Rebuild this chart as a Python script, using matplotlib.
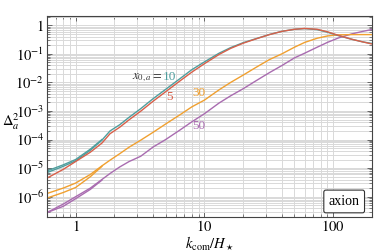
import numpy as np
import matplotlib
matplotlib.use("Agg")
import matplotlib.pyplot as plt
from matplotlib.ticker import LogLocator, FuncFormatter, NullFormatter

plt.rcParams['font.family'] = ['Liberation Serif', 'DejaVu Serif']
plt.rcParams['mathtext.fontset'] = 'stix'

# k_com / H_star grid
k = [0.6, 0.8, 1.0, 1.3, 1.6, 1.85, 2.2, 2.6, 3.2, 4, 5, 6.5, 8, 10, 13, 16,
     20, 25, 32, 40, 50, 60, 75, 90, 110, 140, 170, 200]

# Delta_a^2 for each x_{0,a}
teal_10 = [7e-6, 1.15e-5, 1.8e-5, 4.2e-5, 9.5e-5, 2.0e-4, 3.3e-4, 6.0e-4, 1.2e-3,
           2.7e-3, 5.7e-3, 0.0138, 0.028, 0.052, 0.105, 0.165, 0.245, 0.335, 0.475,
           0.61, 0.72, 0.76, 0.70, 0.57, 0.43, 0.32, 0.26, 0.23]
red_5 = [4.5e-6, 9e-6, 1.7e-5, 3.6e-5, 7.5e-5, 1.6e-4, 2.7e-4, 4.9e-4, 9.8e-4,
         2.2e-3, 4.7e-3, 0.0115, 0.023, 0.045, 0.095, 0.155, 0.235, 0.33, 0.47,
         0.61, 0.72, 0.77, 0.72, 0.59, 0.44, 0.32, 0.26, 0.22]
orange_30 = [1.3e-6, 2.0e-6, 3.0e-6, 6.0e-6, 1.2e-5, 1.9e-5, 3.2e-5, 5.4e-5, 9.5e-5,
             1.8e-4, 3.5e-4, 7.5e-4, 1.4e-3, 2.4e-3, 5.5e-3, 1.0e-2, 0.018, 0.033,
             0.063, 0.10, 0.17, 0.25, 0.35, 0.42, 0.46, 0.47, 0.47, 0.47]
purple_50 = [2.8e-7, 5.5e-7, 1.0e-6, 2.0e-6, 4.0e-6, 6.5e-6, 1.1e-5, 1.7e-5, 2.6e-5,
             5.5e-5, 1.0e-4, 2.2e-4, 4.2e-4, 8e-4, 1.9e-3, 3.4e-3, 6.0e-3, 0.0112,
             0.022, 0.039, 0.072, 0.105, 0.17, 0.25, 0.36, 0.50, 0.61, 0.71]

# second realisation, only differs at low k
k_low = [0.6, 0.8, 1.0, 1.3, 1.6]
teal_10_b = [8e-6, 1.3e-5, 2.0e-5, 4.6e-5, 1.0e-4]
orange_30_b = [9e-7, 1.4e-6, 2.1e-6, 5.0e-6, 1.15e-5]
purple_50_b = [2.8e-7, 4.6e-7, 8.5e-7, 1.8e-6, 3.8e-6]

c_teal = "#4f9e9e"
c_red = "#d8604a"
c_orange = "#f0a030"
c_purple = "#a96cb0"

fig = plt.figure(figsize=(3.74, 2.52), dpi=100)
ax = fig.add_axes([0.1257, 0.140, 0.869, 0.7965])

lw = 1.0
ax.plot(k, purple_50, color=c_purple, lw=lw)
ax.plot(k_low, purple_50_b, color=c_purple, lw=lw)
ax.plot(k, orange_30, color=c_orange, lw=lw)
ax.plot(k_low, orange_30_b, color=c_orange, lw=lw)
ax.plot(k, teal_10, color=c_teal, lw=lw)
ax.plot(k_low, teal_10_b, color=c_teal, lw=lw)
ax.plot(k, red_5, color=c_red, lw=lw)

ax.set_xscale("log")
ax.set_yscale("log")
ax.set_xlim(0.6, 200)
ax.set_ylim(2e-7, 2.1)

ax.yaxis.set_major_locator(LogLocator(base=10, numticks=20))
ax.yaxis.set_minor_locator(LogLocator(base=10, subs=np.arange(2, 10), numticks=20))
ax.yaxis.set_minor_formatter(NullFormatter())
ax.xaxis.set_minor_formatter(NullFormatter())


def yfmt(v, pos):
    e = int(round(np.log10(v)))
    if e == 0:
        return "$1$"
    return "$10^{%d}$" % e


def xfmt(v, pos):
    return "$%g$" % v


ax.yaxis.set_major_formatter(FuncFormatter(yfmt))
ax.xaxis.set_major_formatter(FuncFormatter(xfmt))

ax.grid(True, which="both", color="#d9d9d9", lw=0.7)
ax.set_axisbelow(True)
ax.tick_params(which="both", direction="in", top=True, right=True,
               color="#555555", labelsize=10.5, pad=2)
ax.tick_params(which="major", length=3.5, width=0.6)
ax.tick_params(which="minor", length=2, width=0.5)
for s in ax.spines.values():
    s.set_color("#444444")
    s.set_linewidth(0.8)

ax.set_xlabel(r"$k_{\rm com}/H_\star$", fontsize=10.5, labelpad=0)
ax.set_ylabel(r"$\Delta_a^2$", fontsize=10.5, rotation=0, va="center")
ax.yaxis.set_label_coords(-0.112, 0.475)

ax.text(4.7, 0.015, r"$x_{0,a} = $", color="#333333", fontsize=9, ha="right", va="center")
ax.text(4.75, 0.015, "10", color=c_teal, fontsize=9.5, ha="left", va="center")
ax.text(5.4, 3e-3, "5", color=c_red, fontsize=9.5, ha="center", va="center")
ax.text(9.0, 4.1e-3, "30", color=c_orange, fontsize=9.5, ha="center", va="center")
ax.text(9.0, 3.1e-4, "50", color=c_purple, fontsize=9.5, ha="center", va="center")

ax.text(0.962, 0.076, "axion", transform=ax.transAxes, fontsize=10,
        ha="right", va="center",
        bbox=dict(boxstyle="round,pad=0.35,rounding_size=0.15", fc="white",
                  ec="#333333", lw=0.8))

fig.savefig("out.png", dpi=100)
